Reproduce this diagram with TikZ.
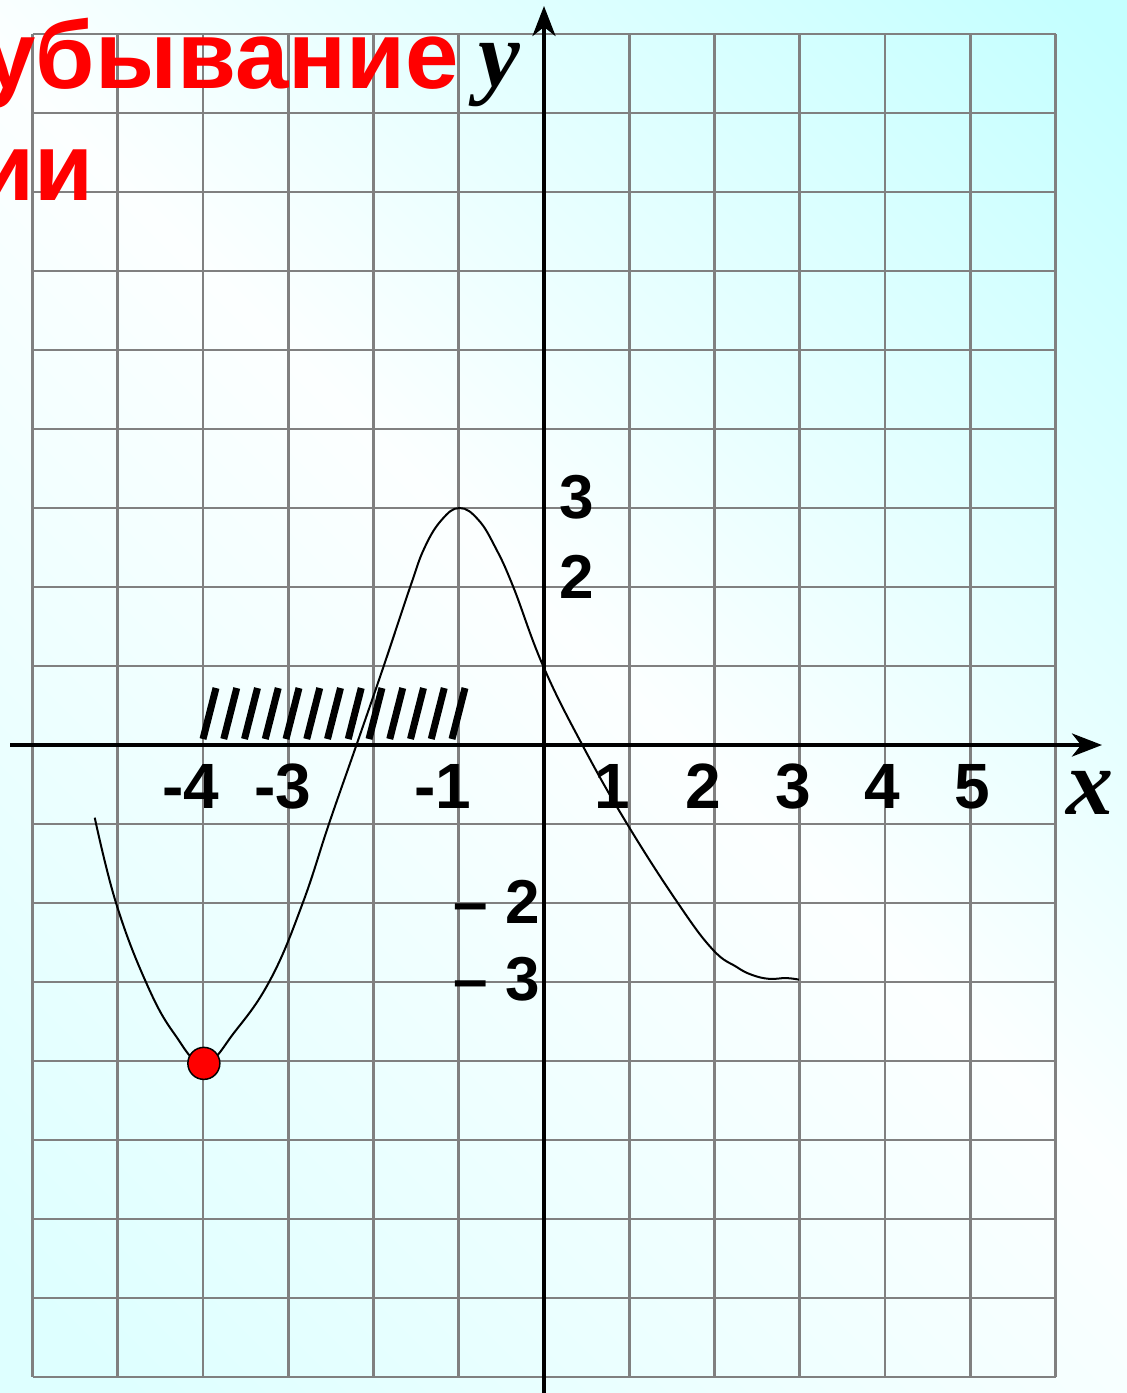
\documentclass[tikz,border=0pt]{standalone}
\usepackage{fontspec}
\setmainfont{Liberation Sans}
\newfontfamily\serifit{Liberation Serif}
\usetikzlibrary{arrows.meta}
\definecolor{gridgray}{HTML}{808080}
\definecolor{bgA}{HTML}{C4FFFF}
\definecolor{bgB}{HTML}{FCFFFF}
\definecolor{bgC}{HTML}{DEFFFF}
\definecolor{ptred}{HTML}{FF0000}
\pgfdeclarehorizontalshading{bgshade}{100bp}{color(0bp)=(bgC); color(18bp)=(bgC); color(52bp)=(bgB); color(84bp)=(bgA); color(100bp)=(bgA)}
\begin{document}
\begin{tikzpicture}[x=1pt,y=-1pt,
  gridline/.style={draw=gridgray, line width=2.8pt},
  axisline/.style={line width=4pt, -{Stealth[length=30pt,width=23pt,inset=9pt]}},
  lbl/.style={font=\fontsize{64}{70}\selectfont\bfseries, inner sep=0pt, anchor=base},
  ylbl/.style={font=\fontsize{62}{66}\selectfont\bfseries, inner sep=0pt},
  titletext/.style={font=\fontsize{96}{100}\selectfont\bfseries, text=ptred, inner sep=0pt, anchor=base east},
  varlbl/.style={font=\fontsize{94}{100}\selectfont\serifit\bfseries\itshape, inner sep=0pt},
  hatchline/.style={line width=7pt},
  curveline/.style={line width=2pt}]
\useasboundingbox (0,0) rectangle (1127,1393);
\shade[shading=bgshade, shading angle=45] (0,0) rectangle (1127,1393);
% grid
\foreach \k in {0,...,12}
  \draw[gridline] ({544+85.25*(\k-6)},34) -- ({544+85.25*(\k-6)},1377);
\foreach \j in {0,...,17}
  \draw[gridline] (32.5,{34+79*\j}) -- (1055.5,{34+79*\j});
% hatch
\foreach \i in {0,...,12}
  \draw[hatchline] ({203+20.75*\i},739) -- ({216+20.75*\i},688);
% axes
\coordinate (xs) at (10,745);
\coordinate (xe) at (1102,745);
\coordinate (ys) at (544,1396);
\coordinate (ye) at (544,6);
\draw[axisline] (xs) -- (xe);
\draw[axisline] (ys) -- (ye);
% curve
\begin{scope}[shift={(544,745)}, x=85.25pt, y=79pt]
\draw[curveline] plot[smooth, tension=0.7] coordinates {
 (-5.27,-0.92) (-5.02,-2) (-4.67,-3) (-4.34,-3.65) (-3.99,-4.03) (-3.62,-3.62)
 (-3.2,-2.95) (-2.83,-2) (-2.52,-0.99) (-2.2,0) (-1.88,1) (-1.57,2) (-1.40,2.5)
 (-1.2,2.85) (-0.99,3) (-0.77,2.85) (-0.57,2.5) (-0.36,2) (-0.01,1) (0.45,0)
 (0.97,-0.99) (1.57,-2) (1.98,-2.59) (2.26,-2.81) (2.44,-2.91) (2.64,-2.96)
 (2.84,-2.95) (2.99,-2.97)};
\coordinate (mn) at (-3.99,-4.03);
\end{scope}
\fill[ptred, draw=black, line width=1.5pt] (mn) circle[radius=16pt];
% title
\node[titletext] (t1) at (459,88) {убывание};
\node[titletext] (t2) at (94,200) {ии};
% axis names
\node[varlbl] (ylab) at (499,75) {y};
\node[varlbl] (xlab) at (1090,793) {x};
% x labels
\node[lbl] (lm4) at (191,808) {-4};
\node[lbl] (lm3) at (283,808) {-3};
\node[lbl] (lm1) at (443,808) {-1};
\node[lbl] (l1) at (612,808) {1};
\node[lbl] (l2) at (703,808) {2};
\node[lbl] (l3) at (793,808) {3};
\node[lbl] (l4) at (882,808) {4};
\node[lbl] (l5) at (972,808) {5};
% y labels
\node[ylbl, anchor=base] (ly3) at (577,518) {3};
\node[ylbl, anchor=base] (ly2) at (577,598) {2};
\node[ylbl, anchor=base east] (lym2) at (540,923) {– 2};
\node[ylbl, anchor=base east] (lym3) at (540,1000) {– 3};
\end{tikzpicture}
\end{document}
